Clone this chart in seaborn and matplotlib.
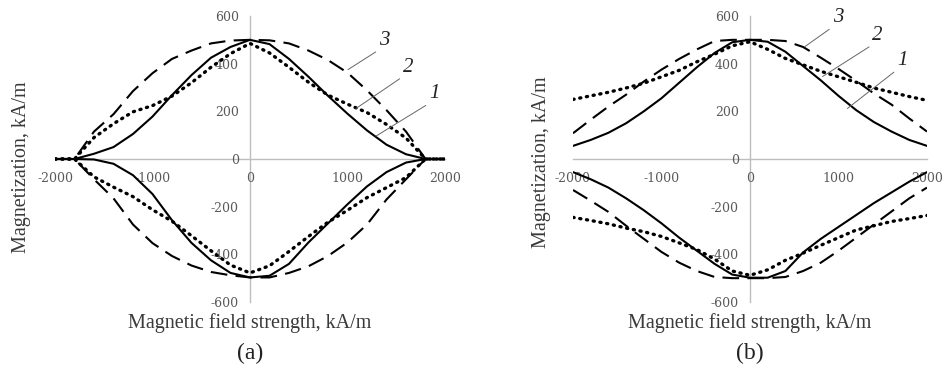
import matplotlib
matplotlib.use("Agg")
import matplotlib.pyplot as plt
import seaborn as sns
import pandas as pd

# ---------------- data ----------------
H = list(range(-2000, 2001, 200))   # magnetic field strength, kA/m

# panel (a): top and bottom branches of curves 1 (solid), 2 (dotted), 3 (dashed)
a1_top = [0, 0, 22, 50, 105, 178, 268, 352, 425, 470, 500, 482, 420, 345, 265, 190, 120, 60, 20, 0, 0]
a1_bot = [0, 0, -2, -20, -68, -147, -257, -352, -425, -478, -497, -490, -440, -350, -270, -190, -115, -55, -15, 0, 0]
a2_top = [0, 0, 90, 148, 198, 224, 264, 320, 385, 442, 485, 445, 385, 322, 268, 230, 195, 145, 88, 0, 0]
a2_bot = [0, 0, -75, -118, -158, -213, -261, -322, -385, -445, -478, -448, -388, -325, -265, -215, -162, -120, -78, 0, 0]
a3_top = [0, 0, 115, 188, 285, 360, 420, 455, 485, 497, 500, 498, 485, 455, 415, 362, 288, 205, 115, 0, 0]
a3_bot = [0, 0, -85, -165, -275, -353, -407, -447, -474, -488, -497, -497, -478, -450, -407, -350, -275, -170, -85, 0, 0]

# panel (b)
b1_top = [55, 80, 110, 150, 200, 255, 320, 385, 445, 490, 500, 492, 450, 390, 330, 265, 205, 155, 115, 80, 55]
b1_bot = [-55, -85, -120, -165, -215, -270, -330, -385, -440, -485, -498, -498, -470, -392, -335, -285, -235, -185, -140, -95, -55]
b2_top = [250, 265, 280, 298, 318, 345, 372, 408, 440, 475, 492, 460, 422, 395, 368, 345, 322, 298, 280, 262, 246]
b2_bot = [-245, -258, -272, -290, -305, -325, -352, -380, -420, -470, -488, -465, -425, -395, -362, -330, -298, -280, -262, -250, -237]
b3_top = [108, 165, 220, 270, 325, 375, 420, 460, 495, 500, 500, 500, 495, 470, 425, 378, 328, 275, 228, 170, 115]
b3_bot = [-130, -175, -222, -280, -335, -390, -435, -470, -495, -500, -500, -500, -495, -470, -435, -385, -330, -275, -220, -165, -120]

curve_names = ["1", "2", "3"]
x_ticks = [-2000, -1000, 0, 1000, 2000]
y_ticks = [-600, -400, -200, 0, 200, 400, 600]
x_label = "Magnetic field strength, kA/m"
y_label = "Magnetization, kA/m"
panel_labels = ["(a)", "(b)"]

# annotation (label, point on curve, end of leader) per panel
ann_a = [("3", (1005, 375), (1323, 458)), ("2", (1087, 212), (1569, 346)), ("1", (1292, 96), (1836, 233))]
ann_b = [("3", (618, 471), (933, 554)), ("2", (820, 346), (1382, 479)), ("1", (1101, 212), (1663, 375))]

# ---------------- build table ----------------
rows = []
def add(panel, curve, branch, vals):
    for h, m in zip(H, vals):
        rows.append(dict(panel=panel, curve=curve, branch=branch, H=h, M=m))

add("a", "1", "top", a1_top); add("a", "1", "bot", a1_bot)
add("a", "2", "top", a2_top); add("a", "2", "bot", a2_bot)
add("a", "3", "top", a3_top); add("a", "3", "bot", a3_bot)
add("b", "1", "top", b1_top); add("b", "1", "bot", b1_bot)
add("b", "2", "top", b2_top); add("b", "2", "bot", b2_bot)
add("b", "3", "top", b3_top); add("b", "3", "bot", b3_bot)
df = pd.DataFrame(rows)

styles = {
    "1": dict(linestyle="-", linewidth=1.5),
    "2": dict(linestyle=(0, (0.35, 1.7)), linewidth=2.4, dash_capstyle="round"),
    "3": dict(linestyle=(0, (8, 4)), linewidth=1.5),
}

sns.set_theme(style="white")
plt.rcParams['font.family'] = ['Liberation Serif', 'DejaVu Serif']

fig = plt.figure(figsize=(9.46, 3.78), dpi=100)
axA = fig.add_axes([55 / 946, 76 / 378, 390 / 946, 286 / 378])
axB = fig.add_axes([573 / 946, 76 / 378, 354 / 946, 286 / 378])

for ax, panel, anns, plab, ylx, yly in [(axA, "a", ann_a, panel_labels[0], -0.062, 0.47),
                                        (axB, "b", ann_b, panel_labels[1], -0.062, 0.49)]:
    sub = df[df.panel == panel]
    for c in curve_names:
        for br in ["top", "bot"]:
            d = sub[(sub.curve == c) & (sub.branch == br)]
            sns.lineplot(data=d, x="H", y="M", ax=ax, color="black", sort=False,
                         estimator=None, legend=False, **styles[c])
    ax.set_xlim(-2000, 2000)
    ax.set_ylim(-600, 600)
    ax.set_xticks(x_ticks)
    ax.set_yticks(y_ticks)
    ax.set_xticklabels([str(v) for v in x_ticks])
    ax.set_yticklabels([str(v) for v in y_ticks])
    for s in ["top", "right"]:
        ax.spines[s].set_visible(False)
    for s in ["left", "bottom"]:
        ax.spines[s].set_position(("data", 0))
        ax.spines[s].set_color("#bdbdbd")
        ax.spines[s].set_linewidth(1.0)
        ax.spines[s].set_zorder(0)
    ax.tick_params(axis="x", length=0, labelsize=9, labelcolor="#5a5a5a", pad=9)
    ax.tick_params(axis="y", length=0, labelsize=9, labelcolor="#5a5a5a", pad=8)
    for t in ax.get_xticklabels() + ax.get_yticklabels():
        t.set_family(['DejaVu Serif'])
    ax.set_xlabel(x_label, fontsize=14.5, color="#3a3a3a")
    ax.set_ylabel(y_label, fontsize=14.5, color="#3a3a3a")
    ax.xaxis.set_label_coords(0.5, -0.04)
    ax.yaxis.set_label_coords(ylx, yly)
    ax.patch.set_alpha(0)
    for lab, xy, xt in anns:
        ax.annotate(lab, xy=xy, xytext=xt, textcoords="data", ha="left", va="bottom",
                    fontsize=15, fontstyle="italic", color="#222222", annotation_clip=False,
                    arrowprops=dict(arrowstyle="-", color="#666666", lw=0.7,
                                    shrinkA=0, shrinkB=0, relpos=(0, 0)))
    ax.text(0.5, -0.18, plab, transform=ax.transAxes, ha="center", va="center",
            fontsize=17, color="#222222")

fig.savefig("out.png", dpi=100, facecolor="white")
